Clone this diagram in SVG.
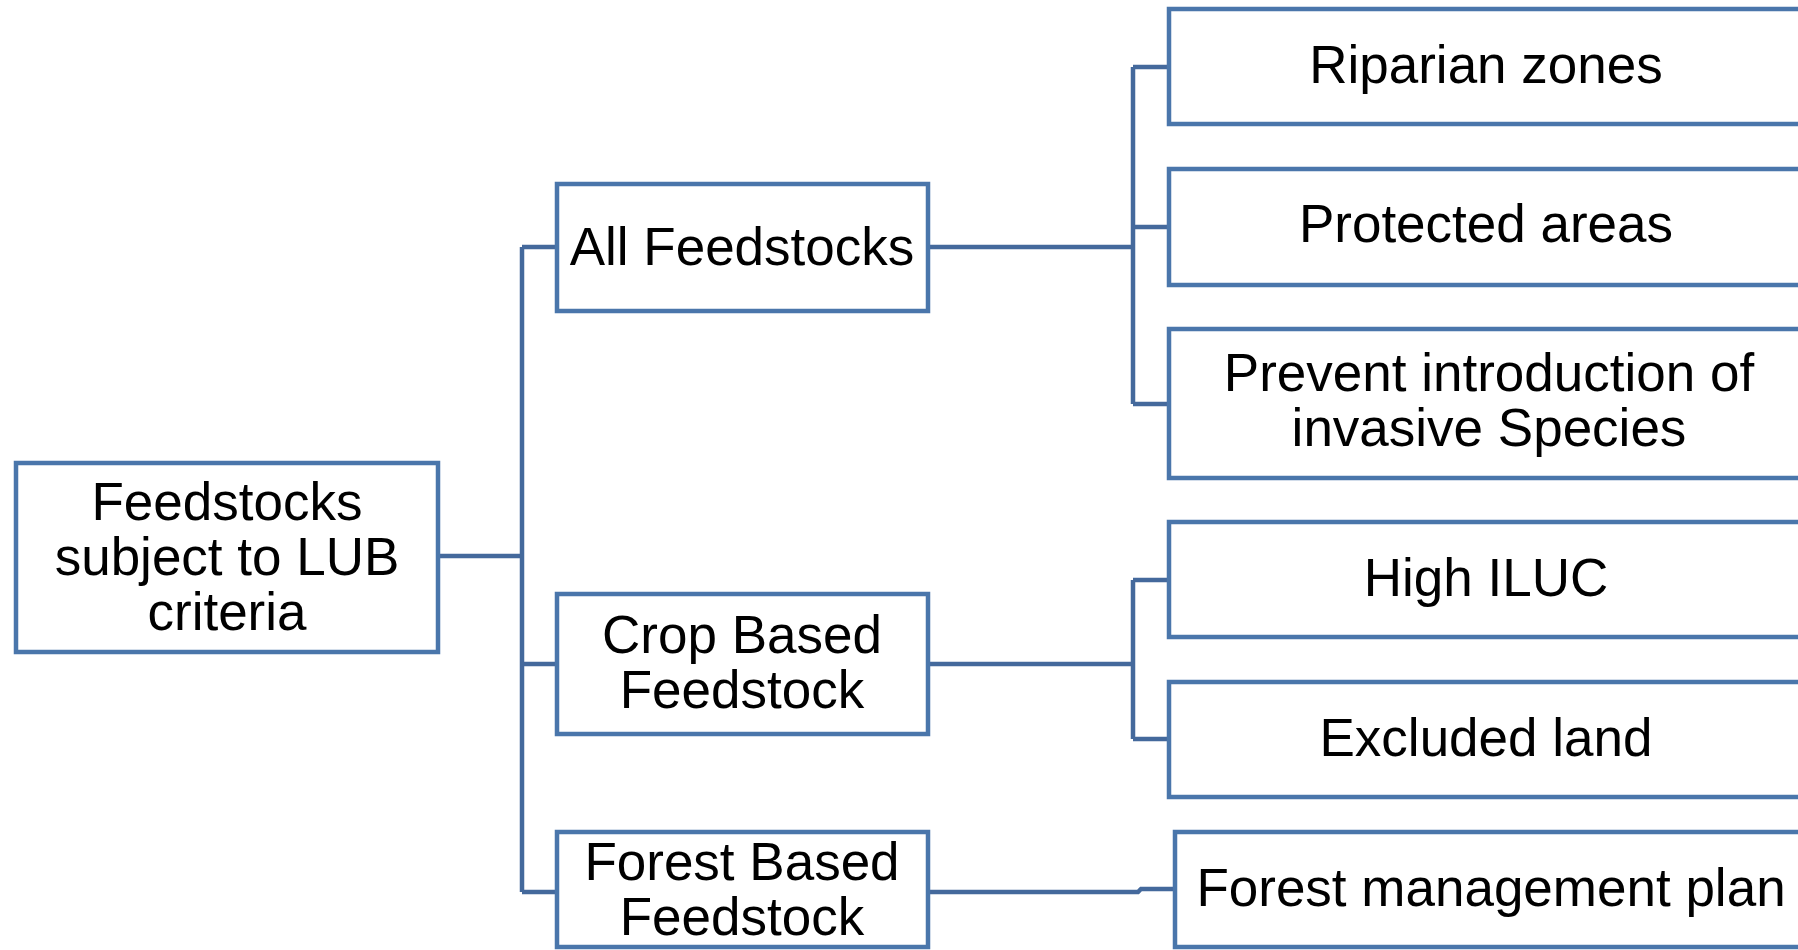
<svg xmlns="http://www.w3.org/2000/svg" width="1798" height="950" viewBox="0 0 1798 950">
  <style>
    .box { fill: #ffffff; stroke: #4a76ab; stroke-width: 4.5; }
    .wire { fill: none; stroke: #44699c; stroke-width: 4.5; }
    .lbl { font-family: "Liberation Sans", Arial, sans-serif; font-size: 53px; fill: #000000; text-anchor: middle; }
  </style>
  <rect x="0" y="0" width="1798" height="950" fill="#ffffff"/>

  <!-- tree connectors -->
  <g id="connectors">
    <path class="wire" d="M438 556 H522"/>
    <path class="wire" d="M522 247 V892"/>
    <path class="wire" d="M522 247 H557 M522 664 H557 M522 892 H557"/>
    <path class="wire" d="M928 247 H1133 M1133 67 V404 M1133 67 H1169 M1133 227 H1169 M1133 404 H1169"/>
    <path class="wire" d="M928 664 H1133 M1133 580 V739 M1133 580 H1169 M1133 739 H1169"/>
    <path class="wire" d="M928 892 H1138 L1141 889 H1175"/>
  </g>

  <g id="root">
    <rect class="box" x="16" y="463" width="422" height="189"/>
    <text class="lbl" x="227" y="520">Feedstocks</text>
    <text class="lbl" x="227" y="575">subject to LUB</text>
    <text class="lbl" x="227" y="630">criteria</text>
  </g>

  <g id="all-feedstocks">
    <rect class="box" x="557" y="184" width="371" height="127"/>
    <text class="lbl" x="742" y="265">All Feedstocks</text>
  </g>

  <g id="crop-based">
    <rect class="box" x="557" y="594" width="371" height="140"/>
    <text class="lbl" x="742" y="653">Crop Based</text>
    <text class="lbl" x="742" y="708">Feedstock</text>
  </g>

  <g id="forest-based">
    <rect class="box" x="557" y="832" width="371" height="115"/>
    <text class="lbl" x="742" y="880">Forest Based</text>
    <text class="lbl" x="742" y="935">Feedstock</text>
  </g>

  <g id="riparian">
    <rect class="box" x="1169" y="9" width="640" height="115"/>
    <text class="lbl" x="1486" y="83">Riparian zones</text>
  </g>

  <g id="protected">
    <rect class="box" x="1169" y="169" width="640" height="116"/>
    <text class="lbl" x="1486" y="242">Protected areas</text>
  </g>

  <g id="invasive">
    <rect class="box" x="1169" y="329" width="640" height="149"/>
    <text class="lbl" x="1489" y="391">Prevent introduction of</text>
    <text class="lbl" x="1489" y="446">invasive Species</text>
  </g>

  <g id="high-iluc">
    <rect class="box" x="1169" y="522" width="640" height="115"/>
    <text class="lbl" x="1486" y="596">High ILUC</text>
  </g>

  <g id="excluded-land">
    <rect class="box" x="1169" y="682" width="640" height="115"/>
    <text class="lbl" x="1486" y="756">Excluded land</text>
  </g>

  <g id="forest-plan">
    <rect class="box" x="1175" y="832" width="640" height="115"/>
    <text class="lbl" x="1491" y="906">Forest management plan</text>
  </g>
</svg>
